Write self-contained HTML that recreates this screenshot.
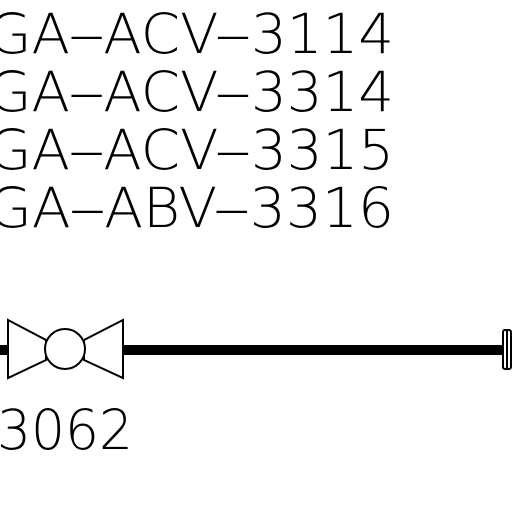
<!DOCTYPE html>
<html><head><meta charset="utf-8"><style>
html,body{margin:0;padding:0;background:#fff;width:512px;height:512px;overflow:hidden}
text{font-family:"DejaVu Sans ExtraLight","DejaVu Sans","Liberation Sans",sans-serif;font-weight:200;font-size:55px;fill:#000}
</style></head><body>
<svg width="512" height="512" viewBox="0 0 512 512">
<rect width="512" height="512" fill="#fff"/>
<text x="-12" y="53" textLength="406" lengthAdjust="spacingAndGlyphs">GA‒ACV‒3114</text>
<text x="-12" y="111" textLength="406" lengthAdjust="spacingAndGlyphs">GA‒ACV‒3314</text>
<text x="-12" y="169" textLength="406" lengthAdjust="spacingAndGlyphs">GA‒ACV‒3315</text>
<text x="-12" y="227" textLength="406" lengthAdjust="spacingAndGlyphs">GA‒ABV‒3316</text>
<g>
<rect x="0" y="345" width="8" height="10" fill="#000"/>
<rect x="123" y="345" width="381" height="10" fill="#000"/>
</g>
<g fill="none" stroke="#000" stroke-width="2">
<polygon points="8,320 46,340 46,360 8,378"/>
<polygon points="123,320 84,340 84,360 123,378"/>
<circle cx="65" cy="349" r="20" fill="#fff"/>
</g>
<g fill="none" stroke="#000" stroke-width="2">
<rect x="503" y="330" width="8" height="39" rx="2"/>
<line x1="507" y1="331" x2="507" y2="368"/>
</g>
<text x="-3" y="449" textLength="136" lengthAdjust="spacingAndGlyphs">3062</text>
</svg>
</body></html>
